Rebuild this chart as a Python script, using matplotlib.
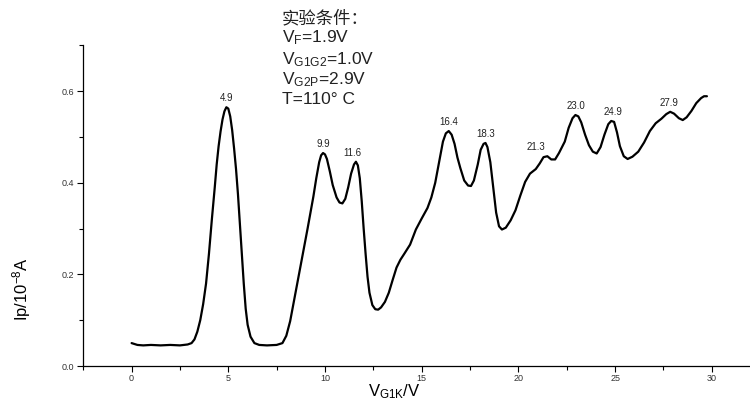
import matplotlib
matplotlib.use("Agg")
import matplotlib.pyplot as plt
from matplotlib.ticker import MultipleLocator

plt.rcParams['font.family'] = ['Liberation Sans', 'Noto Sans CJK SC', 'DejaVu Sans']
plt.rcParams['mathtext.fontset'] = 'custom'
plt.rcParams['mathtext.rm'] = 'Liberation Sans'
plt.rcParams['mathtext.it'] = 'Liberation Sans'

# Curve (V_G1K in V, Ip in 1e-8 A)
v_g1k = [0.0, 0.3, 0.6, 1.0, 1.5, 2.0, 2.5, 2.9, 3.1, 3.25, 3.4, 3.55, 3.7,
         3.85, 4.0, 4.15, 4.3, 4.4, 4.5, 4.6, 4.7, 4.8, 4.9, 5.0, 5.1, 5.2, 5.3,
         5.4, 5.5, 5.6, 5.7, 5.8, 5.9, 6.0, 6.15, 6.35, 6.6, 7.0, 7.5, 7.8, 8.0,
         8.2, 8.5, 8.8, 9.1, 9.4, 9.55, 9.7, 9.8, 9.9, 10.0, 10.1, 10.25, 10.4,
         10.6, 10.75, 10.9, 11.05, 11.2, 11.35, 11.5, 11.6, 11.7, 11.8, 11.9, 12.0,
         12.1, 12.2, 12.3, 12.45, 12.6, 12.75, 12.9, 13.1, 13.3, 13.5, 13.7, 13.9,
         14.1, 14.4, 14.7, 15.0, 15.3, 15.5, 15.7, 15.9, 16.1, 16.25, 16.4, 16.55,
         16.7, 16.85, 17.0, 17.2, 17.4, 17.55, 17.7, 17.9, 18.05, 18.2, 18.3, 18.4,
         18.55, 18.7, 18.85, 19.0, 19.15, 19.35, 19.6, 19.85, 20.1, 20.35, 20.6,
         20.9, 21.1, 21.3, 21.5, 21.7, 21.9, 22.1, 22.4, 22.6, 22.8, 22.95, 23.1,
         23.25, 23.45, 23.65, 23.85, 24.05, 24.25, 24.45, 24.65, 24.8, 24.95, 25.1,
         25.25, 25.45, 25.65, 25.9, 26.2, 26.5, 26.8, 27.1, 27.4, 27.65, 27.85,
         28.05, 28.3, 28.5, 28.7, 28.95, 29.2, 29.45, 29.6, 29.75]
ip = [0.050, 0.046, 0.045, 0.046, 0.045, 0.046, 0.045, 0.047, 0.050, 0.058,
      0.075, 0.100, 0.135, 0.180, 0.245, 0.320, 0.390, 0.440, 0.480, 0.512,
      0.538, 0.556, 0.565, 0.562, 0.545, 0.515, 0.475, 0.430, 0.375, 0.310,
      0.245, 0.180, 0.125, 0.090, 0.064, 0.050, 0.046, 0.045, 0.046, 0.050,
      0.066, 0.098, 0.165, 0.232, 0.300, 0.370, 0.410, 0.445, 0.460, 0.465,
      0.462, 0.452, 0.425, 0.395, 0.368, 0.357, 0.355, 0.365, 0.390, 0.420,
      0.440, 0.446, 0.438, 0.410, 0.360, 0.300, 0.245, 0.195, 0.160, 0.133,
      0.124, 0.123, 0.128, 0.140, 0.160, 0.188, 0.215, 0.232, 0.245, 0.265,
      0.298, 0.322, 0.345, 0.368, 0.400, 0.445, 0.490, 0.508, 0.513, 0.505,
      0.485, 0.455, 0.432, 0.405, 0.394, 0.393, 0.405, 0.440, 0.472, 0.485,
      0.487, 0.478, 0.445, 0.390, 0.335, 0.305, 0.298, 0.302, 0.318, 0.340,
      0.372, 0.402, 0.420, 0.430, 0.442, 0.456, 0.458, 0.451, 0.451, 0.465,
      0.490, 0.520, 0.541, 0.548, 0.545, 0.532, 0.505, 0.482, 0.468, 0.464,
      0.478, 0.505, 0.528, 0.535, 0.533, 0.510, 0.480, 0.458, 0.452, 0.457,
      0.468, 0.488, 0.513, 0.530, 0.540, 0.550, 0.555, 0.551, 0.541, 0.537,
      0.543, 0.557, 0.574, 0.585, 0.589, 0.589]

peak_x = [4.9, 9.9, 11.6, 16.4, 18.3, 21.3, 23.0, 24.9, 27.9]
peak_y = [0.565, 0.465, 0.446, 0.513, 0.487, 0.458, 0.548, 0.535, 0.555]
peak_label_dx = [0.0, 0.0, -0.2, 0.0, 0.0, -0.4, 0.0, 0.0, -0.1]

x_ticks = [0, 5, 10, 15, 20, 25, 30]
y_ticks = [0.0, 0.2, 0.4, 0.6]

cond_lines = [
    "实验条件：",
    r"V$_\mathregular{F}$=1.9V",
    r"V$_\mathregular{G1G2}$=1.0V",
    r"V$_\mathregular{G2P}$=2.9V",
    "T=110° C",
]

fig = plt.figure(figsize=(7.5, 4.0), dpi=100)
ax = fig.add_axes([0.111, 0.085, 0.887, 0.8015])

ax.plot(v_g1k, ip, color='black', lw=1.6, solid_capstyle='round', solid_joinstyle='round')

for px, py, dx in zip(peak_x, peak_y, peak_label_dx):
    ax.annotate(f"{px:.1f}", xy=(px + dx, py), xytext=(0, 3), textcoords='offset points',
                ha='center', va='bottom', fontsize=7, color='#222222')

ax.set_xlim(-2.5, 31.9)
ax.set_ylim(0, 0.7)
ax.set_xticks(x_ticks)
ax.set_yticks(y_ticks)
ax.xaxis.set_minor_locator(MultipleLocator(2.5))
ax.yaxis.set_minor_locator(MultipleLocator(0.1))
ax.set_xticklabels([str(t) for t in x_ticks])
ax.set_yticklabels([f"{t:.1f}" for t in y_ticks])
ax.tick_params(which='both', direction='out', labelsize=6.5, labelcolor='#333333', width=0.8)
ax.tick_params(which='major', length=4)
ax.tick_params(which='minor', length=3)
ax.tick_params(axis='x', pad=1.5)
ax.tick_params(axis='y', pad=2.5)
for s in ('top', 'right'):
    ax.spines[s].set_visible(False)
for s in ('left', 'bottom'):
    ax.spines[s].set_linewidth(0.9)

ax.set_xlabel(r"V$_\mathregular{G1K}$/V", fontsize=12)
ax.xaxis.set_label_coords(0.468, -0.052)
ax.set_ylabel(r"Ip/10$^\mathregular{-8}$A", fontsize=12,
              family=['Liberation Sans Narrow', 'Liberation Sans'])
ax.yaxis.set_label_coords(-0.075, 0.24)

ys = [0.955, 0.905, 0.852, 0.800, 0.750]
for i, (t, yy) in enumerate(zip(cond_lines, ys)):
    fam = ['Noto Sans CJK SC', 'DejaVu Sans'] if i == 0 else ['Liberation Sans', 'DejaVu Sans']
    fig.text(0.376, yy, t, fontsize=12.5, ha='left', va='center',
             color='#222222', family=fam)

fig.savefig("out.png", dpi=100)
